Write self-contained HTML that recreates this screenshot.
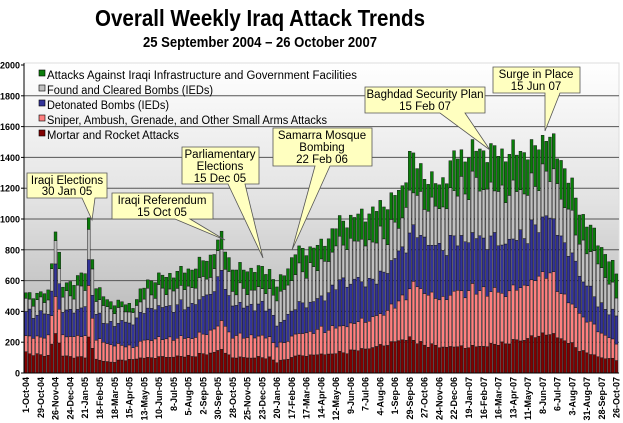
<!DOCTYPE html>
<html><head><meta charset="utf-8">
<style>
html,body{margin:0;padding:0;background:#fff;}
svg{display:block;font-family:"Liberation Sans",Arial,sans-serif;}
</style></head>
<body>
<svg id="c" width="623" height="423" xmlns="http://www.w3.org/2000/svg">
<defs>
<linearGradient id="bg" x1="0" y1="0" x2="0" y2="1">
<stop offset="0" stop-color="#ffffff"/>
<stop offset="0.45" stop-color="#e2e2e2"/>
<stop offset="1" stop-color="#a9a9a9"/>
</linearGradient>
</defs>
<rect x="0" y="0" width="623" height="423" fill="#fff"/>
<text x="260" y="26" text-anchor="middle" font-size="23" font-weight="bold" textLength="330" lengthAdjust="spacingAndGlyphs">Overall Weekly Iraq Attack Trends</text>
<text x="260" y="47" text-anchor="middle" font-size="14.5" font-weight="bold" textLength="234" lengthAdjust="spacingAndGlyphs">25 September 2004 – 26 October 2007</text>
<rect x="24" y="63" width="595" height="310" fill="url(#bg)" stroke="#ddd" stroke-width="1"/>
<g id="grid"></g>
<g id="bars"></g>
<g id="axes"></g>
<g font-size="11.5">
<rect x="39" y="70" width="6" height="6" fill="#0a7d0a" stroke="#000" stroke-width="0.6"/>
<text x="47" y="79" textLength="310" lengthAdjust="spacingAndGlyphs">Attacks Against Iraqi Infrastructure and Government Facilities</text>
<rect x="39" y="85" width="6" height="6" fill="#c0c0c0" stroke="#000" stroke-width="0.6"/>
<text x="47" y="94" textLength="166" lengthAdjust="spacingAndGlyphs">Found and Cleared Bombs (IEDs)</text>
<rect x="39" y="100" width="6" height="6" fill="#333399" stroke="#000" stroke-width="0.6"/>
<text x="47" y="109" textLength="122" lengthAdjust="spacingAndGlyphs">Detonated Bombs (IEDs)</text>
<rect x="39" y="115" width="6" height="6" fill="#ff8080" stroke="#000" stroke-width="0.6"/>
<text x="47" y="124" textLength="280" lengthAdjust="spacingAndGlyphs">Sniper, Ambush, Grenade, and Other Small Arms Attacks</text>
<rect x="39" y="130" width="6" height="6" fill="#800000" stroke="#000" stroke-width="0.6"/>
<text x="47" y="139" textLength="132" lengthAdjust="spacingAndGlyphs">Mortar and Rocket Attacks</text>
</g>
<g fill="#ffffc0" stroke="#555" stroke-width="0.8" font-size="11.5">
<polygon points="27,173 107,173 107,198 95,198 92,220 82,198 27,198"/>
<polygon points="112,193 213,193 213,219 190,219 225,240 175,219 112,219"/>
<polygon points="182,147 259,147 259,184 245,184 263,258 228,184 182,184"/>
<polygon points="273,128 372,128 372,166 330,166 292,250 315,166 273,166"/>
<polygon points="365,87 485,87 485,113 465,113 490,150 440,113 365,113"/>
<polygon points="493,67 580,67 580,93 560,93 545,131 545,93 493,93"/>
<g fill="#000" stroke="none" text-anchor="middle">
<text x="67" y="184">Iraqi Elections</text><text x="67" y="195">30 Jan 05</text>
<text x="162" y="204">Iraqi Referendum</text><text x="162" y="216">15 Oct 05</text>
<text x="220" y="158">Parliamentary</text><text x="220" y="170">Elections</text><text x="220" y="182">15 Dec 05</text>
<text x="322" y="139">Samarra Mosque</text><text x="322" y="151">Bombing</text><text x="322" y="163">22 Feb 06</text>
<text x="425" y="98">Baghdad Security Plan</text><text x="425" y="110">15 Feb 07</text>
<text x="536" y="78">Surge in Place</text><text x="536" y="90">15 Jun 07</text>
</g>
</g>
</svg>
<script>
(function(){
var NS="http://www.w3.org/2000/svg";
function el(t,a,p){var e=document.createElementNS(NS,t);for(var k in a)e.setAttribute(k,a[k]);p.appendChild(e);return e;}
var y0=373, sc=308/2000;
function Y(v){return y0-v*sc;}
var grid=document.getElementById('grid'), axes=document.getElementById('axes'), bars=document.getElementById('bars');
for(var v=0;v<=2000;v+=200){
  if(v>0&&v<2000) el('line',{x1:24,x2:619,y1:Y(v),y2:Y(v),stroke:'#555','stroke-width':1},grid);
  var t=el('text',{x:20,y:Y(v)+3.5,'text-anchor':'end','font-size':9,'font-weight':'bold'},axes);t.textContent=v;
  el('line',{x1:21,x2:24,y1:Y(v),y2:Y(v),stroke:'#000'},axes);
}
el('line',{x1:24,x2:24,y1:63,y2:373,stroke:'#000'},axes);
el('line',{x1:24,x2:619,y1:373,y2:373,stroke:'#000'},axes);
var K=[[0,130,240,390,470,510],[6,110,230,380,470,520],[8,270,540,720,880,950],[10,110,240,400,490,560],[16,100,240,420,560,650],[17,235,540,720,900,980],[19,90,220,380,480,560],[22,70,190,320,420,470],[29,90,170,330,400,440],[33,100,220,420,520,600],[45,110,230,440,560,680],[50,130,270,520,640,760],[53,150,330,636,800,883],[56,100,240,440,540,680],[66,100,235,430,540,670],[68,70,170,300,475,560],[73,110,250,430,650,785],[80,120,280,480,700,830],[85,130,300,590,845,980],[95,170,363,600,860,1060],[102,215,475,800,990,1190],[104,230,560,900,1200,1435],[106,195,560,910,1140,1340],[112,170,475,800,1060,1210],[116,170,520,860,1180,1400],[122,170,540,880,1230,1450],[130,195,520,845,1170,1430],[138,235,600,930,1210,1450],[141,260,670,1040,1340,1565],[146,215,495,845,1120,1340],[150,150,390,650,860,1060],[155,105,280,455,730,860],[160,85,195,365,495,650]];
function interp(i,j){for(var k=0;k<K.length-1;k++){if(i>=K[k][0]&&i<=K[k+1][0]){var a=K[k],b=K[k+1],f=(i-a[0])/(b[0]-a[0]);return a[j]+(b[j]-a[j])*f;}}return K[K.length-1][j];}
var cols=['#800000','#ff8080','#333399','#c0c0c0','#0a7d0a'];
var start=new Date(Date.UTC(2004,9,1));
var mn=['Jan','Feb','Mar','Apr','May','Jun','Jul','Aug','Sep','Oct','Nov','Dec'];
for(var i=0;i<=160;i++){
  var x=26+3.69*i, w=2.9;
  var prev=0;
  var n=1+0.035*Math.sin(i*2.3)+0.025*Math.sin(i*5.1+1);
  for(var j=1;j<=5;j++){
    var v=interp(i,j);
    var nn=1+0.03*Math.sin(i*1.7+j*2.1)+0.02*Math.sin(i*4.3+j);
    v=v*n*(j<5?nn:1);
    if(v<prev+5)v=prev+5;
    el('rect',{x:(x-w/2).toFixed(2),y:Y(v).toFixed(2),width:w,height:((v-prev)*sc).toFixed(2),fill:cols[j-1],stroke:'#111','stroke-width':0.45},bars);
    prev=v;
  }
  if(i%4==0){
    var d=new Date(start.getTime()+i*7*86400000);
    var s=d.getUTCDate()+'-'+mn[d.getUTCMonth()]+'-'+String(d.getUTCFullYear()).slice(2);
    var t=el('text',{x:0,y:0,'text-anchor':'end','font-size':9,'font-weight':'bold',transform:'translate('+(x+3.2).toFixed(2)+',377) rotate(-90)'},axes);
    t.textContent=s;
  }
}
})();
</script>
</body></html>
